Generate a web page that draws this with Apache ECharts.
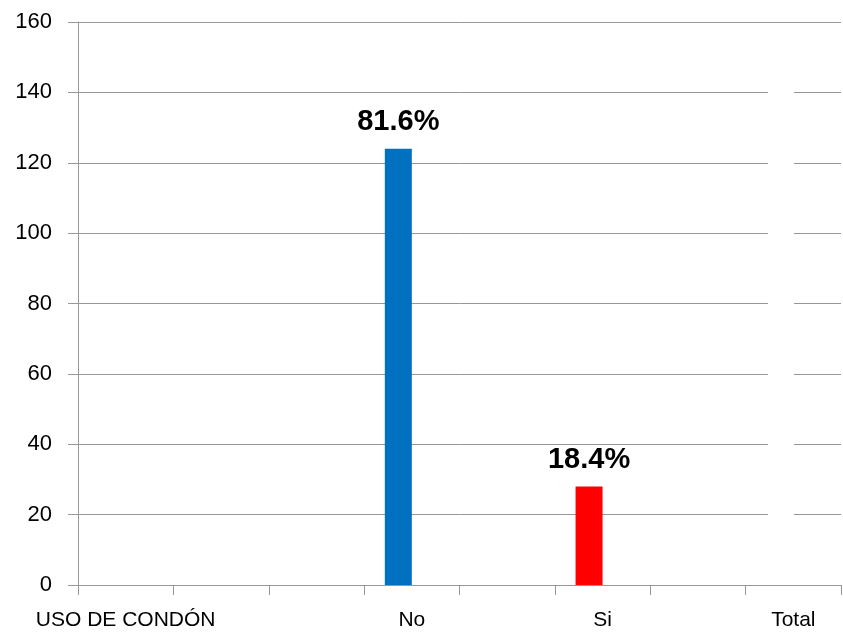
<!DOCTYPE html>
<html>
<head>
<meta charset="utf-8">
<script src="https://cdn.jsdelivr.net/npm/echarts@6/dist/echarts.min.js"></script>
<style>
  html, body { margin: 0; padding: 0; background: #fff; }
  #main { width: 843px; height: 635px; }
</style>
</head>
<body>
<div id="main"></div>
<script>
// categories as they sit on the Excel axis (blank slots included)
var categories = ['USO DE CONDÓN', '', '', 'No', '', 'Si', '', 'Total'];
var counts = ['-', '-', '-', 124, '-', 28, '-', '-'];
var barColors = {'No': '#0070C0', 'Si': '#FF0000'};
var yTicks = {min: 0, max: 160, interval: 20};

var total = 0;
counts.forEach(function (v) { if (v !== '-') total += v; });

var chart = echarts.init(document.getElementById('main'));
var gridColor = '#979797';

chart.setOption({
  animation: false,
  grid: {left: 78, right: 2, top: 22, bottom: 50, containLabel: false},
  xAxis: {
    type: 'category',
    data: categories,
    axisLine: {lineStyle: {color: gridColor, width: 1}},
    axisTick: {show: true, length: 10, interval: 0, lineStyle: {color: gridColor}},
    axisLabel: {
      interval: 0, margin: 25, color: '#000',
      fontFamily: 'Liberation Sans', fontSize: 21
    }
  },
  yAxis: {
    type: 'value',
    min: yTicks.min, max: yTicks.max, interval: yTicks.interval,
    axisLine: {show: true, lineStyle: {color: gridColor, width: 1}},
    axisTick: {show: true, length: 10, lineStyle: {color: gridColor}},
    splitLine: {lineStyle: {color: gridColor, width: 1}},
    axisLabel: {
      margin: 26, color: '#000',
      fontFamily: 'Liberation Sans', fontSize: 22
    }
  },
  series: [
    {
      type: 'bar',
      data: counts,
      barWidth: 27,
      barGap: '0%',
      itemStyle: {
        color: function (p) { return barColors[p.name] || '#0070C0'; }
      },
      label: {
        show: true, position: 'top', distance: 12,
        color: '#000', fontFamily: 'Liberation Sans', fontWeight: 'bold', fontSize: 29,
        formatter: function (p) { return (p.value / total * 100).toFixed(1) + '%'; }
      },
      z: 3
    },
    {
      // empty companion series, keeps the bars left of the slot centre
      type: 'bar',
      data: categories.map(function () { return '-'; }),
      barWidth: 27
    }
  ],
  graphic: [
    // blank strip left in the gridlines by the hidden Excel legend
    {type: 'rect', right: 49, top: 30, shape: {width: 26, height: 545},
     style: {fill: '#fff'}, z: 10}
  ]
});
</script>
</body>
</html>
